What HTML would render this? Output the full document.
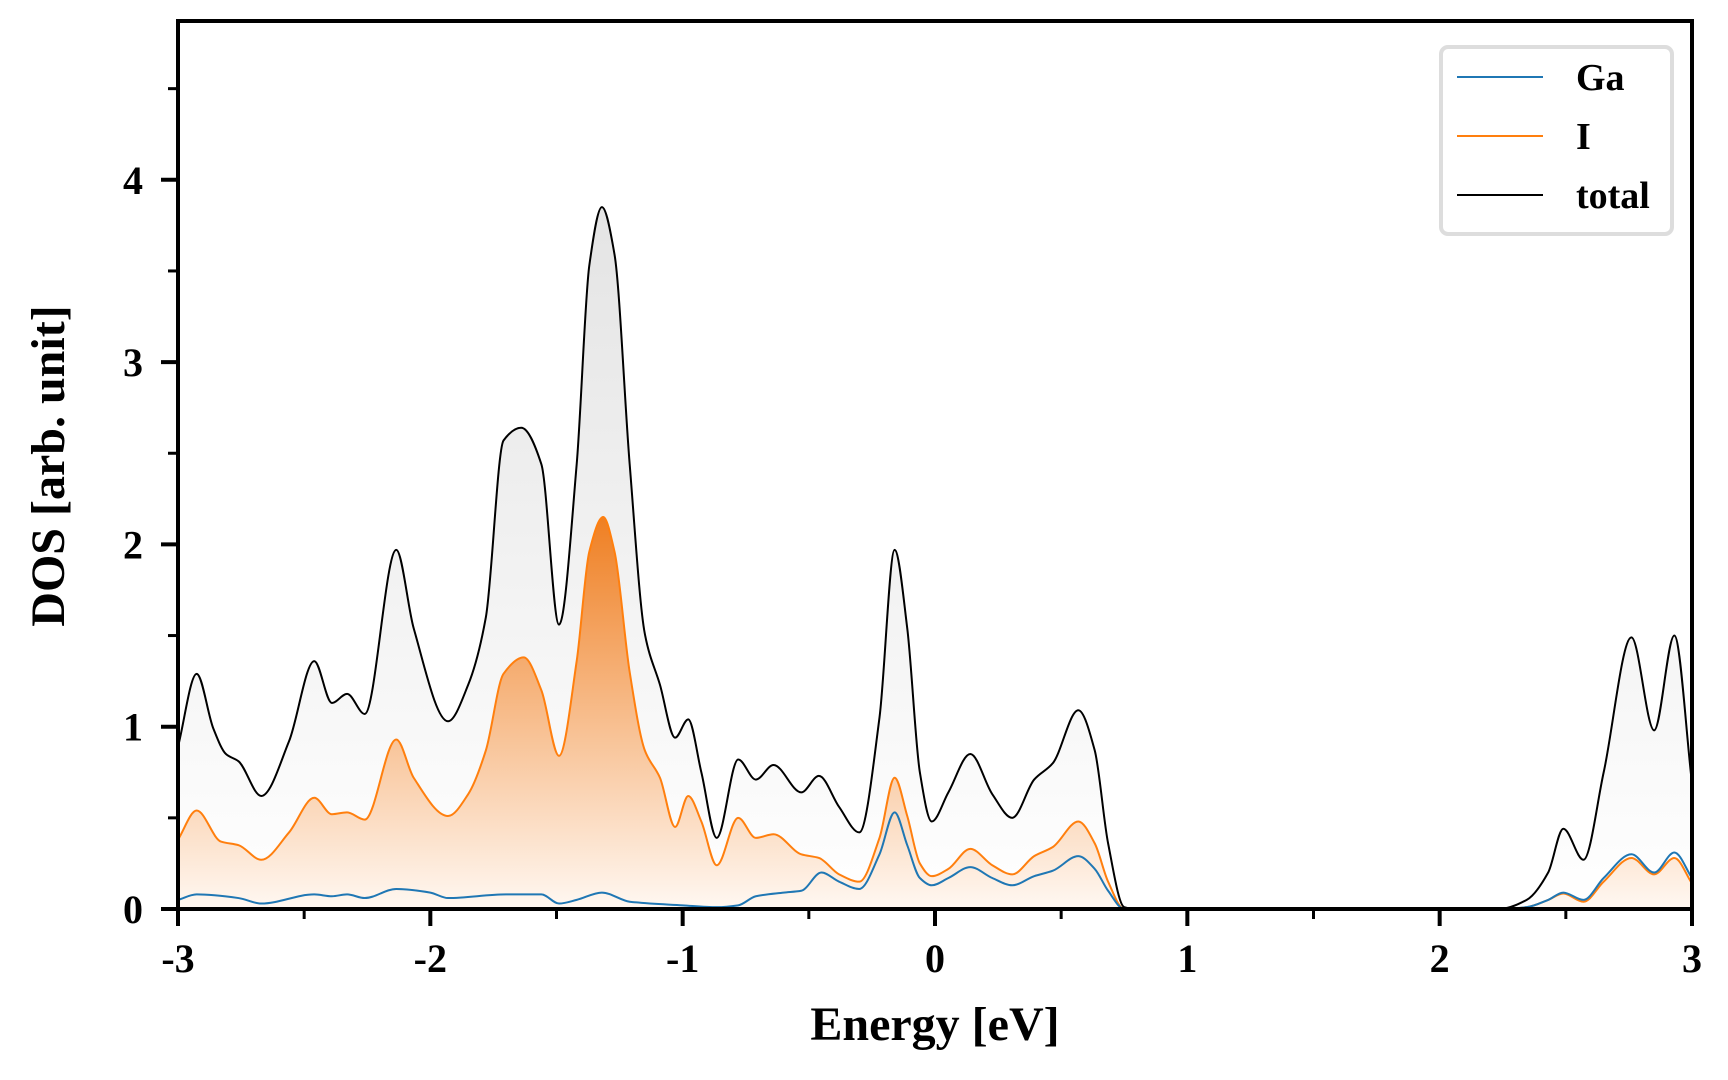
<!DOCTYPE html>
<html><head><meta charset="utf-8"><style>
html,body{margin:0;padding:0;background:#fff;}
svg{display:block;}
text{font-family:"Liberation Serif",serif;font-weight:bold;fill:#000;}
</style></head><body>
<svg id="chart" width="1728" height="1080" viewBox="0 0 1728 1080" xmlns="http://www.w3.org/2000/svg">
<defs>
<linearGradient id="gTot" x1="0" y1="0" x2="0" y2="1"><stop offset="0" stop-color="#e4e4e4"/><stop offset="1" stop-color="#ffffff"/></linearGradient>
<linearGradient id="gI" x1="0" y1="0" x2="0" y2="1"><stop offset="0" stop-color="#ef7f22"/><stop offset="1" stop-color="#fff8f2"/></linearGradient>
<clipPath id="clip"><rect x="178" y="21" width="1514" height="888"/></clipPath>
</defs>
<g id="plot" clip-path="url(#clip)"></g>
<g id="axes"></g>
<text x="935" y="1040" font-size="48" text-anchor="middle">Energy [eV]</text>
<text x="0" y="0" font-size="48" text-anchor="middle" transform="translate(64,466) rotate(-90)">DOS [arb. unit]</text>
<g>
<rect x="1441" y="47" width="231" height="187" rx="7" fill="#fff" stroke="#dddddd" stroke-width="4"/>
<line x1="1457" y1="77" x2="1543" y2="77" stroke="#1f77b4" stroke-width="2"/>
<text x="1576" y="90" font-size="38">Ga</text>
<line x1="1457" y1="136" x2="1543" y2="136" stroke="#ff7f0e" stroke-width="2"/>
<text x="1576" y="149" font-size="38">I</text>
<line x1="1457" y1="195" x2="1543" y2="195" stroke="#000" stroke-width="2"/>
<text x="1576" y="208" font-size="38">total</text>
</g>
</svg>
<script>
const totalE=[-3,-2.926,-2.86,-2.81,-2.76,-2.67,-2.56,-2.46,-2.39,-2.33,-2.26,-2.135,-2.066,-1.93,-1.85,-1.78,-1.71,-1.64,-1.56,-1.49,-1.42,-1.37,-1.32,-1.27,-1.21,-1.15,-1.09,-1.03,-0.978,-0.926,-0.865,-0.78,-0.71,-0.64,-0.53,-0.46,-0.38,-0.30,-0.22,-0.16,-0.11,-0.06,-0.013,0.053,0.14,0.227,0.306,0.393,0.467,0.568,0.633,0.686,0.75,0.795,2.236,2.345,2.43,2.49,2.57,2.65,2.76,2.85,2.93,3.0];
const totalV=[0.89,1.29,0.99,0.85,0.81,0.62,0.92,1.36,1.13,1.18,1.07,1.97,1.54,1.03,1.23,1.60,2.57,2.64,2.44,1.56,2.44,3.53,3.85,3.59,2.44,1.51,1.23,0.94,1.04,0.75,0.39,0.82,0.71,0.79,0.64,0.73,0.56,0.42,1.05,1.97,1.54,0.75,0.48,0.64,0.85,0.63,0.50,0.71,0.80,1.09,0.87,0.36,0.01,0,0,0.05,0.2,0.44,0.27,0.75,1.49,0.98,1.50,0.69];
const iE=[-3,-2.926,-2.83,-2.76,-2.67,-2.56,-2.46,-2.39,-2.33,-2.26,-2.135,-2.066,-1.93,-1.85,-1.78,-1.71,-1.63,-1.56,-1.49,-1.42,-1.37,-1.315,-1.27,-1.21,-1.15,-1.09,-1.03,-0.978,-0.926,-0.865,-0.78,-0.71,-0.64,-0.53,-0.46,-0.38,-0.30,-0.22,-0.16,-0.11,-0.06,-0.013,0.053,0.14,0.227,0.306,0.393,0.467,0.568,0.633,0.686,0.75,0.795,2.236,2.345,2.43,2.49,2.57,2.65,2.76,2.85,2.93,3.0];
const iV=[0.38,0.54,0.37,0.35,0.27,0.42,0.61,0.52,0.53,0.49,0.93,0.72,0.51,0.63,0.87,1.29,1.38,1.20,0.84,1.36,1.96,2.15,1.96,1.30,0.87,0.72,0.45,0.62,0.48,0.24,0.50,0.39,0.41,0.30,0.28,0.19,0.15,0.39,0.72,0.51,0.25,0.18,0.22,0.33,0.24,0.19,0.29,0.34,0.48,0.36,0.15,0.0,0,0,0.01,0.05,0.085,0.04,0.15,0.28,0.19,0.28,0.14];
const gaE=[-3,-2.926,-2.76,-2.67,-2.46,-2.39,-2.33,-2.26,-2.135,-2.0,-1.93,-1.7,-1.56,-1.49,-1.42,-1.32,-1.21,-1.0,-0.865,-0.78,-0.71,-0.6,-0.53,-0.45,-0.38,-0.30,-0.22,-0.16,-0.11,-0.06,-0.013,0.053,0.14,0.227,0.306,0.393,0.467,0.568,0.633,0.686,0.75,0.795,2.236,2.345,2.43,2.49,2.57,2.65,2.76,2.85,2.93,3.0];
const gaV=[0.05,0.08,0.06,0.03,0.08,0.07,0.08,0.06,0.11,0.09,0.06,0.08,0.08,0.03,0.05,0.09,0.04,0.02,0.01,0.02,0.07,0.09,0.10,0.20,0.15,0.11,0.30,0.53,0.35,0.17,0.13,0.17,0.23,0.17,0.13,0.18,0.21,0.29,0.22,0.10,0.0,0,0,0.01,0.05,0.09,0.05,0.17,0.30,0.20,0.31,0.17];
const xTicks=[-3,-2,-1,0,1,2,3];
const xTickLabels=["-3","-2","-1","0","1","2","3"];
const yTicks=[0,1,2,3,4];
const yTickLabels=["0","1","2","3","4"];

const X0=178,X1=1692,Y0=909,YU=182.3;
const xs=e=>X0+(e+3)/6*(X1-X0);
const ys=v=>Y0-v*YU;
const NS="http://www.w3.org/2000/svg";
function mk(tag,attrs,parent){const el=document.createElementNS(NS,tag);for(const k in attrs)el.setAttribute(k,attrs[k]);parent.appendChild(el);return el;}
function monoPath(E,V){
  const px=E.map(xs),py=V.map(ys),n=px.length;
  const d=[],m=[];
  for(let i=0;i<n-1;i++)d.push((py[i+1]-py[i])/(px[i+1]-px[i]));
  m[0]=d[0];m[n-1]=d[n-2];
  for(let i=1;i<n-1;i++){
    if(d[i-1]*d[i]<=0)m[i]=0;
    else{const h0=px[i]-px[i-1],h1=px[i+1]-px[i];m[i]=3*(h0+h1)/((2*h1+h0)/d[i-1]+(h1+2*h0)/d[i]);}
  }
  let s="M"+px[0]+","+py[0];
  for(let i=0;i<n-1;i++){const h=(px[i+1]-px[i])/3;
    s+=" C"+(px[i]+h)+","+(py[i]+m[i]*h)+" "+(px[i+1]-h)+","+(py[i+1]-m[i+1]*h)+" "+px[i+1]+","+py[i+1];}
  return s;
}
const plot=document.getElementById('plot');
function series(E,V,fill,stroke,name){
  const p=monoPath(E,V);
  if(fill){const a=mk('path',{d:p+" L"+xs(E[E.length-1])+","+Y0+" L"+xs(E[0])+","+Y0+" Z",fill:fill,stroke:'none'},plot);
    
    }
  const l=mk('path',{d:p,fill:'none',stroke:stroke,'stroke-width':2},plot);
  
  
}
series(totalE,totalV,'url(#gTot)','#000','total');
series(iE,iV,'url(#gI)','#ff7f0e','i');
series(gaE,gaV,null,'#1f77b4','ga');

const axes=document.getElementById('axes');
const frame=mk('rect',{x:X0,y:21,width:X1-X0,height:Y0-21,fill:'none',stroke:'#000','stroke-width':4},axes);


xTicks.forEach((t,i)=>{
  const x=xs(t);
  const tk=mk('line',{x1:x,y1:Y0,x2:x,y2:Y0+17,stroke:'#000','stroke-width':4},axes);
  
  
  const lb=mk('text',{x:x,y:972,'font-size':40,'text-anchor':'middle'},axes);
  lb.textContent=xTickLabels[i];
  
  
  if(i<xTicks.length-1){const xm=xs(t+0.5);
    const mt=mk('line',{x1:xm,y1:Y0,x2:xm,y2:Y0+10,stroke:'#000','stroke-width':3},axes);
    
    }
});
yTicks.forEach((t,i)=>{
  const y=ys(t);
  const tk=mk('line',{x1:X0-17,y1:y,x2:X0,y2:y,stroke:'#000','stroke-width':4},axes);
  
  
  const lb=mk('text',{x:143,y:y+14,'font-size':40,'text-anchor':'end'},axes);
  lb.textContent=yTickLabels[i];
  
  
  const ym=ys(t+0.5);
  const mt=mk('line',{x1:X0-10,y1:ym,x2:X0,y2:ym,stroke:'#000','stroke-width':3},axes);
  
  
});
</script>
</body></html>
